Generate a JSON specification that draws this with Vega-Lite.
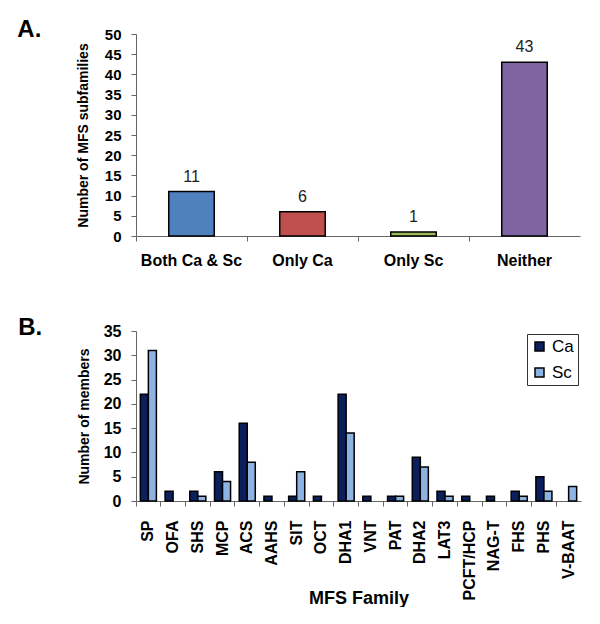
{
  "$schema": "https://vega.github.io/schema/vega-lite/v6.json",
  "background": "white",
  "padding": {"left": 17, "top": 18, "right": 10, "bottom": 0},
  "config": {
    "font": "Liberation Sans",
    "view": {"stroke": null},
    "axis": {"grid": false, "domainColor": "#666", "tickColor": "#666", "labelColor": "black", "titleColor": "black", "labelFont": "Liberation Sans", "titleFont": "Liberation Sans"},
    "title": {"font": "Liberation Sans", "color": "black"}
  },
  "resolve": {"scale": {"color": "independent"}, "legend": {"color": "independent"}},
  "spacing": 48,
  "vconcat": [
    {
      "title": {"text": "A.", "anchor": "start", "frame": "bounds", "fontSize": 24, "fontWeight": "bold", "dx": -59, "dy": 15, "offset": 0},
      "width": 444,
      "height": 202,
      "data": {"values": [
        {"cat": "Both Ca & Sc", "n": 11},
        {"cat": "Only Ca", "n": 6},
        {"cat": "Only Sc", "n": 1},
        {"cat": "Neither", "n": 43}
      ]},
      "encoding": {
        "x": {"field": "cat", "type": "nominal", "sort": null,
          "scale": {"paddingInner": 0, "paddingOuter": 0},
          "axis": {"title": null, "labelAngle": 0, "bandPosition": 0, "labelFontSize": 16, "labelFontWeight": "bold", "labelPadding": 11, "tickSize": 5}},
        "y": {"field": "n", "type": "quantitative",
          "scale": {"domain": [0, 50]},
          "axis": {"title": "Number of MFS subfamilies", "values": [0,5,10,15,20,25,30,35,40,45,50], "labelFontSize": 15, "labelFontWeight": "bold", "labelPadding": 10, "titleFontSize": 14, "titleFontWeight": "bold", "tickSize": 5, "titlePadding": 14}}
      },
      "layer": [
        {"mark": {"type": "bar", "width": {"band": 0.41}, "stroke": "black", "strokeWidth": 1.5},
         "encoding": {"color": {"field": "cat", "type": "nominal", "sort": null, "legend": null,
           "scale": {"domain": ["Both Ca & Sc", "Only Ca", "Only Sc", "Neither"], "range": ["#4F81BD", "#C0504D", "#9BBB59", "#8064A2"]}}}},
        {"mark": {"type": "text", "baseline": "alphabetic", "dy": -10, "fontSize": 16, "color": "#222"},
         "encoding": {"text": {"field": "n", "type": "quantitative"}}}
      ]
    },
    {
      "title": {"text": "B.", "anchor": "start", "frame": "bounds", "fontSize": 24, "fontWeight": "bold", "dx": -59, "dy": 17, "offset": 0},
      "width": 445,
      "height": 170,
      "data": {"values": [
        {"fam": "SP", "sp": "Ca", "n": 22}, {"fam": "SP", "sp": "Sc", "n": 31},
        {"fam": "OFA", "sp": "Ca", "n": 2}, {"fam": "OFA", "sp": "Sc", "n": 0},
        {"fam": "SHS", "sp": "Ca", "n": 2}, {"fam": "SHS", "sp": "Sc", "n": 1},
        {"fam": "MCP", "sp": "Ca", "n": 6}, {"fam": "MCP", "sp": "Sc", "n": 4},
        {"fam": "ACS", "sp": "Ca", "n": 16}, {"fam": "ACS", "sp": "Sc", "n": 8},
        {"fam": "AAHS", "sp": "Ca", "n": 1}, {"fam": "AAHS", "sp": "Sc", "n": 0},
        {"fam": "SIT", "sp": "Ca", "n": 1}, {"fam": "SIT", "sp": "Sc", "n": 6},
        {"fam": "OCT", "sp": "Ca", "n": 1}, {"fam": "OCT", "sp": "Sc", "n": 0},
        {"fam": "DHA1", "sp": "Ca", "n": 22}, {"fam": "DHA1", "sp": "Sc", "n": 14},
        {"fam": "VNT", "sp": "Ca", "n": 1}, {"fam": "VNT", "sp": "Sc", "n": 0},
        {"fam": "PAT", "sp": "Ca", "n": 1}, {"fam": "PAT", "sp": "Sc", "n": 1},
        {"fam": "DHA2", "sp": "Ca", "n": 9}, {"fam": "DHA2", "sp": "Sc", "n": 7},
        {"fam": "LAT3", "sp": "Ca", "n": 2}, {"fam": "LAT3", "sp": "Sc", "n": 1},
        {"fam": "PCFT/HCP", "sp": "Ca", "n": 1}, {"fam": "PCFT/HCP", "sp": "Sc", "n": 0},
        {"fam": "NAG-T", "sp": "Ca", "n": 1}, {"fam": "NAG-T", "sp": "Sc", "n": 0},
        {"fam": "FHS", "sp": "Ca", "n": 2}, {"fam": "FHS", "sp": "Sc", "n": 1},
        {"fam": "PHS", "sp": "Ca", "n": 5}, {"fam": "PHS", "sp": "Sc", "n": 2},
        {"fam": "V-BAAT", "sp": "Ca", "n": 0}, {"fam": "V-BAAT", "sp": "Sc", "n": 3}
      ]},
      "transform": [{"filter": "datum.n > 0"}],
      "mark": {"type": "bar", "stroke": "black", "strokeWidth": 1.5},
      "encoding": {
        "x": {"field": "fam", "type": "nominal", "sort": ["SP","OFA","SHS","MCP","ACS","AAHS","SIT","OCT","DHA1","VNT","PAT","DHA2","LAT3","PCFT/HCP","NAG-T","FHS","PHS","V-BAAT"],
          "scale": {"paddingInner": 0, "paddingOuter": 0},
          "axis": {"title": "MFS Family", "titleFontSize": 18, "titleFontWeight": "bold", "titleY": 102, "titleBaseline": "alphabetic", "labelAngle": -90, "labelFontSize": 16, "labelFontWeight": "bold", "bandPosition": 0, "tickSize": 5, "labelPadding": 14}},
        "xOffset": {"field": "sp", "type": "nominal", "scale": {"domain": ["Ca", "Sc"], "paddingInner": 0, "paddingOuter": 0.54}},
        "y": {"field": "n", "type": "quantitative",
          "scale": {"domain": [0, 35]},
          "axis": {"title": "Number of members", "values": [0,5,10,15,20,25,30,35], "labelFontSize": 16, "labelFontWeight": "bold", "labelPadding": 10, "titleFontSize": 14, "titleFontWeight": "bold", "tickSize": 5, "titlePadding": 12}},
        "color": {"field": "sp", "type": "nominal",
          "scale": {"domain": ["Ca", "Sc"], "range": ["#0B1F5C", "#8DB3E2"]},
          "legend": {"title": null, "orient": "none", "legendX": 391, "legendY": 3, "strokeColor": "#333", "padding": 4, "labelFontSize": 17, "labelColor": "black", "symbolType": "square", "symbolSize": 81, "symbolStrokeColor": "black", "symbolStrokeWidth": 1.5, "rowPadding": 8, "labelOffset": 4, "fillColor": "white"}}
      }
    }
  ]
}
